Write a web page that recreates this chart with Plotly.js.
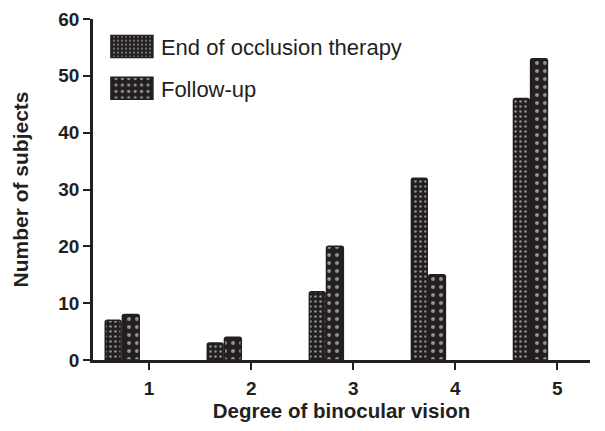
<!DOCTYPE html>
<html><head><meta charset="utf-8">
<script src="https://cdn.plot.ly/plotly-3.0.1.min.js"></script>
<style>html,body{margin:0;padding:0;background:#fff}</style>
</head><body>
<div id="chart" style="width:605px;height:431px"></div>
<script>
const categories = [1, 2, 3, 4, 5];
const endOfTherapy = [7, 3, 12, 32, 46];
const followUp = [8, 4, 20, 15, 53];
const seriesNames = ["End of occlusion therapy", "Follow-up"];
const yTicks = [0, 10, 20, 30, 40, 50, 60];

const dark = "#231f20";
const fontFam = "Liberation Sans, Arial, sans-serif";
const traces = [
  {type: "bar", x: categories, y: endOfTherapy, name: seriesNames[0], legendgroup: "a",
   offset: -0.43, width: 0.155,
   marker: {color: dark, line: {color: dark, width: 1.5}, cornerradius: 2,
            pattern: {shape: ".", fgcolor: "#fff", bgcolor: dark, size: 5, solidity: 0.2, fillmode: "overlay"}}},
  {type: "bar", x: categories, y: followUp, name: seriesNames[1], legendgroup: "b",
   offset: -0.262, width: 0.165,
   marker: {color: dark, line: {color: dark, width: 1.5}, cornerradius: 2,
            pattern: {shape: ".", fgcolor: "#fff", bgcolor: dark, size: 8, solidity: 0.2, fillmode: "overlay"}}}
];
const layout = {
  width: 605, height: 431,
  margin: {l: 93, r: 15, t: 19, b: 71},
  paper_bgcolor: "#fff", plot_bgcolor: "#fff",
  font: {family: fontFam, color: "#231f20"},
  showlegend: true,
  legend: {x: 0.02, y: 0.98, xanchor: "left", yanchor: "top", font: {size: 22, color: "#231f20", family: fontFam},
           bgcolor: "rgba(0,0,0,0)", tracegroupgap: 10, itemwidth: 48},
  xaxis: {range: [0.45, 5.32], tickvals: categories, ticktext: categories.map(v => "<b>" + v + "</b>"),
          showgrid: false, zeroline: false, showline: true, linewidth: 2.5, linecolor: "#231f20",
          ticks: "outside", ticklen: 7, tickwidth: 2, tickcolor: "#231f20", ticklabelstandoff: 2,
          tickfont: {size: 19, family: fontFam},
          title: {text: "<b>Degree of binocular vision</b>", font: {size: 20.5, family: fontFam}, standoff: 6}},
  yaxis: {range: [0, 60], tickvals: yTicks, ticktext: yTicks.map(v => "<b>" + v + "</b>"),
          showgrid: false, zeroline: false,
          showline: true, linewidth: 2.5, linecolor: "#231f20",
          ticks: "outside", ticklen: 7, tickwidth: 2, tickcolor: "#231f20",
          tickfont: {size: 19, family: fontFam},
          title: {text: "<b>Number of subjects</b>", font: {size: 21, family: fontFam}, standoff: 24}}
};
Plotly.newPlot("chart", traces, layout, {displayModeBar: false}).then(function(gd){
  document.querySelectorAll(".legendpoints path").forEach(function(p){
    p.setAttribute("d", "M21,11H-21V-11H21Z");
  });
});
</script>
</body></html>
